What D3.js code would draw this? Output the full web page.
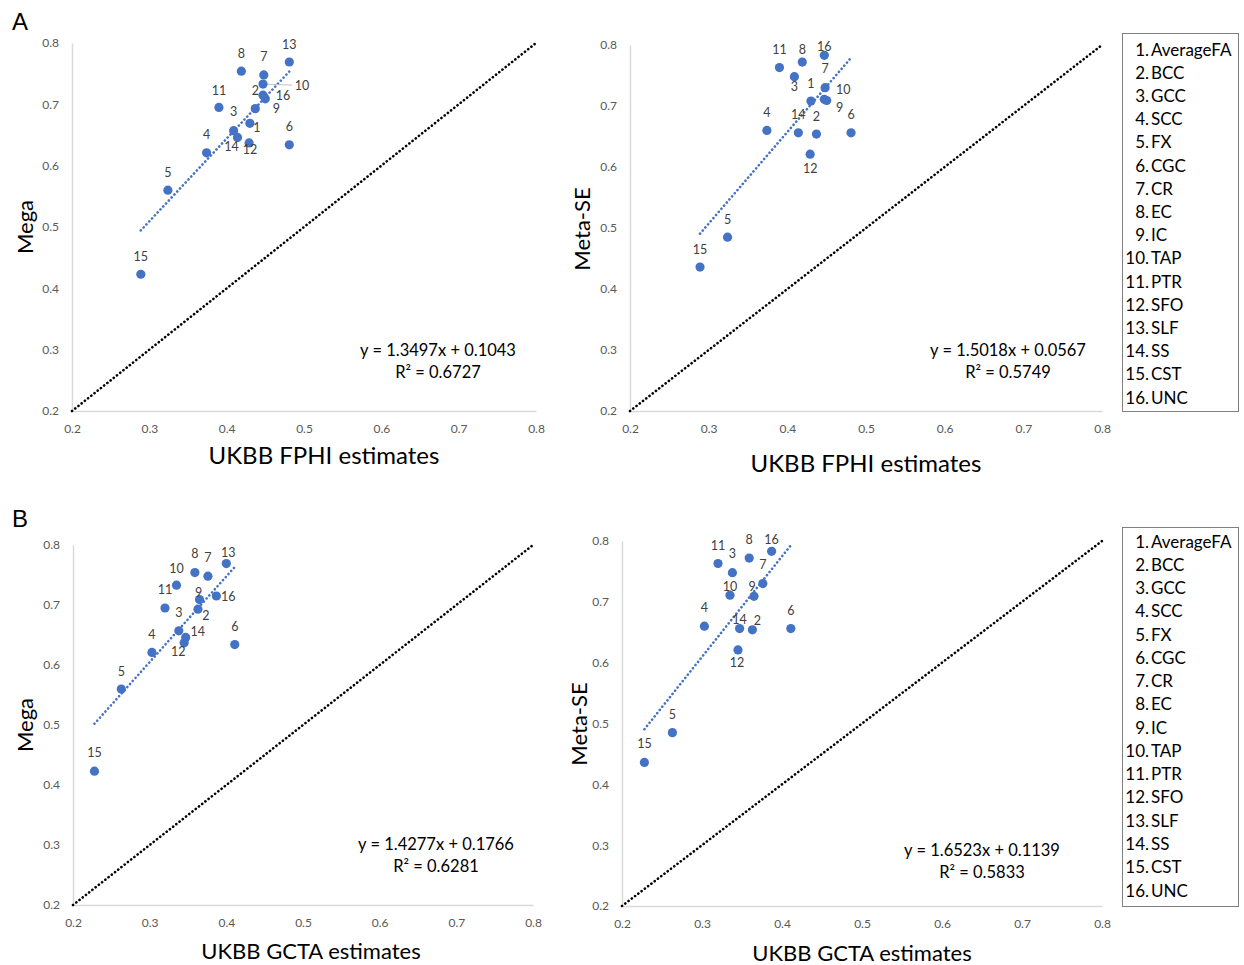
<!DOCTYPE html>
<html><head><meta charset="utf-8">
<script src="https://cdn.jsdelivr.net/npm/d3@7"></script>
<style>body{margin:0;background:#fff}</style>
</head><body>
<svg id="c" width="1244" height="965"></svg>
<script>
// ---- data ----
const categories = ["AverageFA","BCC","GCC","SCC","FX","CGC","CR","EC","IC","TAP","PTR","SFO","SLF","SS","CST","UNC"];
const fphi   = [0.430,0.437,0.409,0.374,0.324,0.481,0.448,0.419,0.450,0.447,0.390,0.429,0.481,0.414,0.289,0.447];
const gcta   = [null, 0.363,0.338,0.303,0.263,0.411,0.376,0.359,0.365,0.335,0.320,0.345,0.400,0.347,0.228,0.387];
const mega   = [0.669,0.693,0.657,0.621,0.560,0.634,0.748,0.754,0.709,0.733,0.695,0.637,0.769,0.646,0.423,0.715];
const metaSE = [0.708,0.654,0.748,0.660,0.485,0.656,0.730,0.772,0.709,0.711,0.763,0.621,null, 0.656,0.436,0.783];
const fitSlope     = [1.3497, 1.5018, 1.4277, 1.6523];
const fitIntercept = [0.1043, 0.0567, 0.1766, 0.1139];
const fitR2        = ["0.6727","0.5749","0.6281","0.5833"];
const axisTicks = [0.2,0.3,0.4,0.5,0.6,0.7,0.8];

// label offsets (layout only)
const offA1 = [[7,4],[0,-18],[0,-19],[0,-18],[0,-18],[0,-18],[0,-18],[0,-18],[11,10],[39,1],[0,-17],[1,7],[0,-18],[-6,9],[0,-18],[20,0]];
const offA2 = [[0,-18],[0,-18],[0,10],[0,-18],[0,-18],[0,-18],[0,-19],[0,-13],[13,7],[19,-10],[0,-18],[0,14],[0,-18],[0,-18],[0,-18],[0,-9]];
const offB1 = [[0,-18],[8,6],[0,-18],[0,-18],[0,-18],[0,-18],[0,-19],[0,-19],[-1,-7],[0,-17],[0,-19],[-6,9],[2,-11],[12,-6],[0,-19],[12,0]];
const offB2 = [[0,-18],[5,-9],[0,-19],[0,-19],[0,-18],[0,-18],[0,-19],[0,-19],[-2,-10],[0,-9],[0,-18],[-1,13],[0,-18],[0,-9],[0,-19],[0,-12]];

const svg = d3.select("#c");
const FONT = "Lato, 'Open Sans', sans-serif";
const BLUE = "#4472C4";

const panels = [
  {xs:fphi, ys:mega,   xr:[72,536],  yr:[411,43],  off:offA1, xt:"UKBB FPHI estimates", yt:"Mega",    xtp:[324,454], ytp:[24,227], ts:24, eq:[438,350], leader:[9]},
  {xs:fphi, ys:metaSE, xr:[630,1102],yr:[411,45],  off:offA2, xt:"UKBB FPHI estimates", yt:"Meta-SE", xtp:[866,462], ytp:[581,229], ts:24, eq:[1008,350], leader:[]},
  {xs:gcta, ys:mega,   xr:[73,533],  yr:[905,545], off:offB1, xt:"UKBB GCTA estimates", yt:"Mega",    xtp:[311,950], ytp:[24,725], ts:22, eq:[436,844], leader:[]},
  {xs:gcta, ys:metaSE, xr:[622,1102],yr:[906,541], off:offB2, xt:"UKBB GCTA estimates", yt:"Meta-SE", xtp:[862,952], ytp:[578,724], ts:22, eq:[982,850], leader:[]}
];

panels.forEach((p, pi) => {
  const x = d3.scaleLinear().domain([0.2,0.8]).range(p.xr);
  const y = d3.scaleLinear().domain([0.2,0.8]).range(p.yr);
  const g = svg.append("g");

  // axes
  const ax = g.append("g").attr("transform",`translate(0,${p.yr[0]})`)
    .call(d3.axisBottom(x).tickValues(axisTicks).tickFormat(d3.format(".1f")).tickSize(0).tickPadding(13));
  const ay = g.append("g").attr("transform",`translate(${p.xr[0]},0)`)
    .call(d3.axisLeft(y).tickValues(axisTicks).tickFormat(d3.format(".1f")).tickSize(0).tickPadding(13));
  [ax, ay].forEach(a => {
    a.select(".domain").attr("stroke","#d9d9d9").attr("stroke-width",1.5);
    a.selectAll("text").attr("fill","#595959").style("font-family",FONT).style("font-size","12px");
  });

  // identity dotted line
  g.append("line")
    .attr("x1",x(0.2)).attr("y1",y(0.2)).attr("x2",x(0.8)).attr("y2",y(0.8))
    .attr("stroke","#000").attr("stroke-width",2.6).attr("stroke-dasharray","0.1 4").attr("stroke-linecap","round");

  // points present
  const pts = categories.map((c,i)=>({i, x:p.xs[i], y:p.ys[i]})).filter(d=>d.x!=null && d.y!=null);

  // trend line
  const xe = d3.extent(pts, d=>d.x);
  const f = v => fitSlope[pi]*v + fitIntercept[pi];
  g.append("line")
    .attr("x1",x(xe[0])).attr("y1",y(f(xe[0]))).attr("x2",x(xe[1])).attr("y2",y(f(xe[1])))
    .attr("stroke",BLUE).attr("stroke-width",2.6).attr("stroke-dasharray","0.1 4").attr("stroke-linecap","round");

  // leader lines
  p.leader.forEach(i => {
    g.append("line").attr("x1",x(p.xs[i])).attr("y1",y(p.ys[i]))
      .attr("x2",x(p.xs[i])+p.off[i][0]-10).attr("y2",y(p.ys[i])+p.off[i][1])
      .attr("stroke","#bfbfbf").attr("stroke-width",1);
  });

  // points
  g.selectAll("circle").data(pts).join("circle")
    .attr("cx",d=>x(d.x)).attr("cy",d=>y(d.y)).attr("r",4.6).attr("fill",BLUE);

  // labels
  g.selectAll("text.lbl").data(pts).join("text").attr("class","lbl")
    .attr("x",d=>x(d.x)+p.off[d.i][0]).attr("y",d=>y(d.y)+p.off[d.i][1])
    .attr("text-anchor","middle").attr("dominant-baseline","central")
    .attr("fill","#404040").style("font-family",FONT).style("font-size","12.5px")
    .text(d=>d.i+1);

  // titles
  g.append("text").attr("x",p.xtp[0]).attr("y",p.xtp[1]).attr("text-anchor","middle").attr("dominant-baseline","central")
    .style("font-family",FONT).style("font-size",p.ts+"px").attr("fill","#000").text(p.xt);
  g.append("text").attr("transform",`translate(${p.ytp[0]},${p.ytp[1]}) rotate(-90)`).attr("text-anchor","middle").attr("dominant-baseline","central")
    .style("font-family",FONT).style("font-size","22px").attr("fill","#000").text(p.yt);

  // equation
  const eq = g.append("g").style("font-family",FONT).style("font-size","16.5px").attr("fill","#000");
  eq.append("text").attr("x",p.eq[0]).attr("y",p.eq[1]).attr("text-anchor","middle").attr("dominant-baseline","central")
    .text(`y = ${fitSlope[pi].toFixed(4)}x + ${fitIntercept[pi].toFixed(4)}`);
  eq.append("text").attr("x",p.eq[0]).attr("y",p.eq[1]+22).attr("text-anchor","middle").attr("dominant-baseline","central")
    .text(`R² = ${fitR2[pi]}`);
});

// panel letters
[["A",12,30],["B",12,527]].forEach(([t,xx,yy]) =>
  svg.append("text").attr("x",xx).attr("y",yy).style("font-family","'Liberation Sans', Arial, sans-serif")
    .style("font-size","24px").attr("fill","#000").text(t));

// legends
[[33,411,49],[527,906,541]].forEach(([top,bot,first]) => {
  const lg = svg.append("g");
  lg.append("rect").attr("x",1122.5).attr("y",top+0.5).attr("width",116).attr("height",bot-top)
    .attr("fill","#fff").attr("stroke","#808080").attr("stroke-width",1);
  const ly = d3.scalePoint().domain(categories).range([first, first + (bot-top-30)]);
  categories.forEach((c,i) => {
    lg.append("text").attr("x",1149).attr("y",ly(c)).attr("text-anchor","end").attr("dominant-baseline","central")
      .style("font-family",FONT).style("font-size","17px").attr("fill","#000").text((i+1)+".");
    lg.append("text").attr("x",1151).attr("y",ly(c)).attr("dominant-baseline","central")
      .style("font-family",FONT).style("font-size","17px").attr("fill","#000").text(c);
  });
});
</script>
</body></html>
